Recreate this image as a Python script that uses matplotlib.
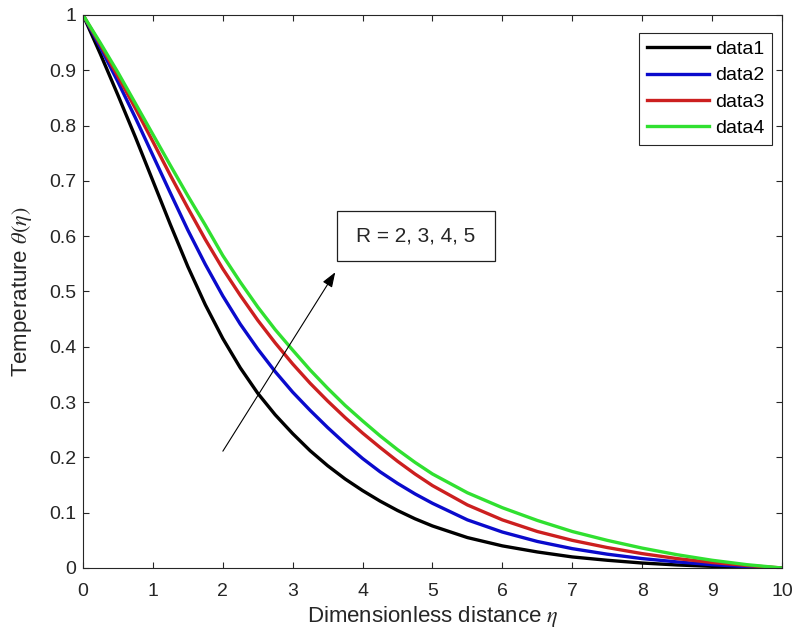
import matplotlib
matplotlib.use('Agg')
import matplotlib.pyplot as plt
from matplotlib.patches import Rectangle

# distance values (eta) and the four temperature profiles
eta = [0, 0.25, 0.5, 0.75, 1, 1.25, 1.5, 1.75, 2, 2.25, 2.5, 2.75, 3, 3.25, 3.5, 3.75,
       4, 4.25, 4.5, 4.75, 5, 5.5, 6, 6.5, 7, 7.5, 8, 8.5, 9, 9.5, 10]
theta_r2 = [1.0, 0.929, 0.855, 0.779, 0.700, 0.621, 0.545, 0.476, 0.415, 0.362, 0.316,
            0.277, 0.243, 0.212, 0.185, 0.161, 0.14, 0.121, 0.104, 0.089, 0.076,
            0.055, 0.04, 0.029, 0.02, 0.014, 0.009, 0.0055, 0.003, 0.0012, 0.0]
theta_r3 = [1.0, 0.941, 0.879, 0.814, 0.746, 0.678, 0.611, 0.549, 0.492, 0.441, 0.396,
            0.355, 0.318, 0.285, 0.254, 0.225, 0.198, 0.174, 0.153, 0.134, 0.117,
            0.087, 0.065, 0.048, 0.035, 0.025, 0.017, 0.011, 0.006, 0.0025, 0.0]
theta_r4 = [1.0, 0.946, 0.889, 0.831, 0.771, 0.710, 0.651, 0.594, 0.541, 0.493, 0.448,
            0.407, 0.369, 0.334, 0.302, 0.272, 0.244, 0.218, 0.193, 0.17, 0.149,
            0.114, 0.087, 0.066, 0.05, 0.037, 0.026, 0.017, 0.010, 0.0045, 0.0]
theta_r5 = [1.0, 0.949, 0.896, 0.840, 0.784, 0.728, 0.673, 0.620, 0.565, 0.517, 0.472,
            0.431, 0.394, 0.358, 0.325, 0.294, 0.266, 0.239, 0.214, 0.191, 0.17,
            0.136, 0.109, 0.086, 0.066, 0.05, 0.036, 0.024, 0.014, 0.006, 0.0]

series = [theta_r2, theta_r3, theta_r4, theta_r5]
labels = ['data1', 'data2', 'data3', 'data4']
colors = ['#000000', '#0a0acc', '#cc1f1f', '#30e030']

xticks = list(range(0, 11))
yticks = [0, 0.1, 0.2, 0.3, 0.4, 0.5, 0.6, 0.7, 0.8, 0.9, 1]
ytick_labels = ['0', '0.1', '0.2', '0.3', '0.4', '0.5', '0.6', '0.7', '0.8', '0.9', '1']

plt.rcParams['font.family'] = ['Liberation Sans', 'DejaVu Sans']
plt.rcParams['mathtext.fontset'] = 'stix'
gray = '#262626'

fig = plt.figure(figsize=(7.95, 6.4), dpi=100)
ax = fig.add_axes([0.1044, 0.1125, 0.8792, 0.8641])

for y, lab, c in zip(series, labels, colors):
    ax.plot(eta, y, color=c, lw=2.4, label=lab)

ax.set_xlim(0, 10)
ax.set_ylim(0, 1)
ax.set_xticks(xticks)
ax.set_yticks(yticks)
ax.set_yticklabels(ytick_labels)
ax.tick_params(direction='in', length=4, width=0.8, top=True, right=True,
               labelsize=14, colors=gray)
ax.tick_params(axis='x', pad=11)
ax.tick_params(axis='y', pad=5)
for s in ax.spines.values():
    s.set_color(gray)
    s.set_linewidth(0.8)

ax.set_xlabel(r'Dimensionless distance $\eta$', fontsize=16, color=gray, labelpad=3)
ax.set_ylabel(r'Temperature $\theta(\eta)$', fontsize=16, color=gray, labelpad=11)

leg = ax.legend(loc='upper right', bbox_to_anchor=(0.986, 0.968), borderaxespad=0,
                fontsize=14, handlelength=3.2, handletextpad=0.3, labelspacing=0.45,
                borderpad=0.4, fancybox=False, framealpha=1, edgecolor=gray)
leg.get_frame().set_linewidth(0.8)

# annotation arrow and boxed text
ax.annotate('', xy=(3.63, 0.539), xytext=(1.98, 0.207),
            arrowprops=dict(arrowstyle='-|>,head_length=0.6,head_width=0.22',
                            mutation_scale=15, lw=0.8, color='k'))
ax.add_patch(Rectangle((3.64, 0.556), 2.25, 0.089, fill=False, ec='#202020', lw=0.9))
ax.text(4.765, 0.6005, 'R = 2, 3, 4, 5', fontsize=15, color='#262626',
        ha='center', va='center')

plt.savefig('out.png', dpi=100)
